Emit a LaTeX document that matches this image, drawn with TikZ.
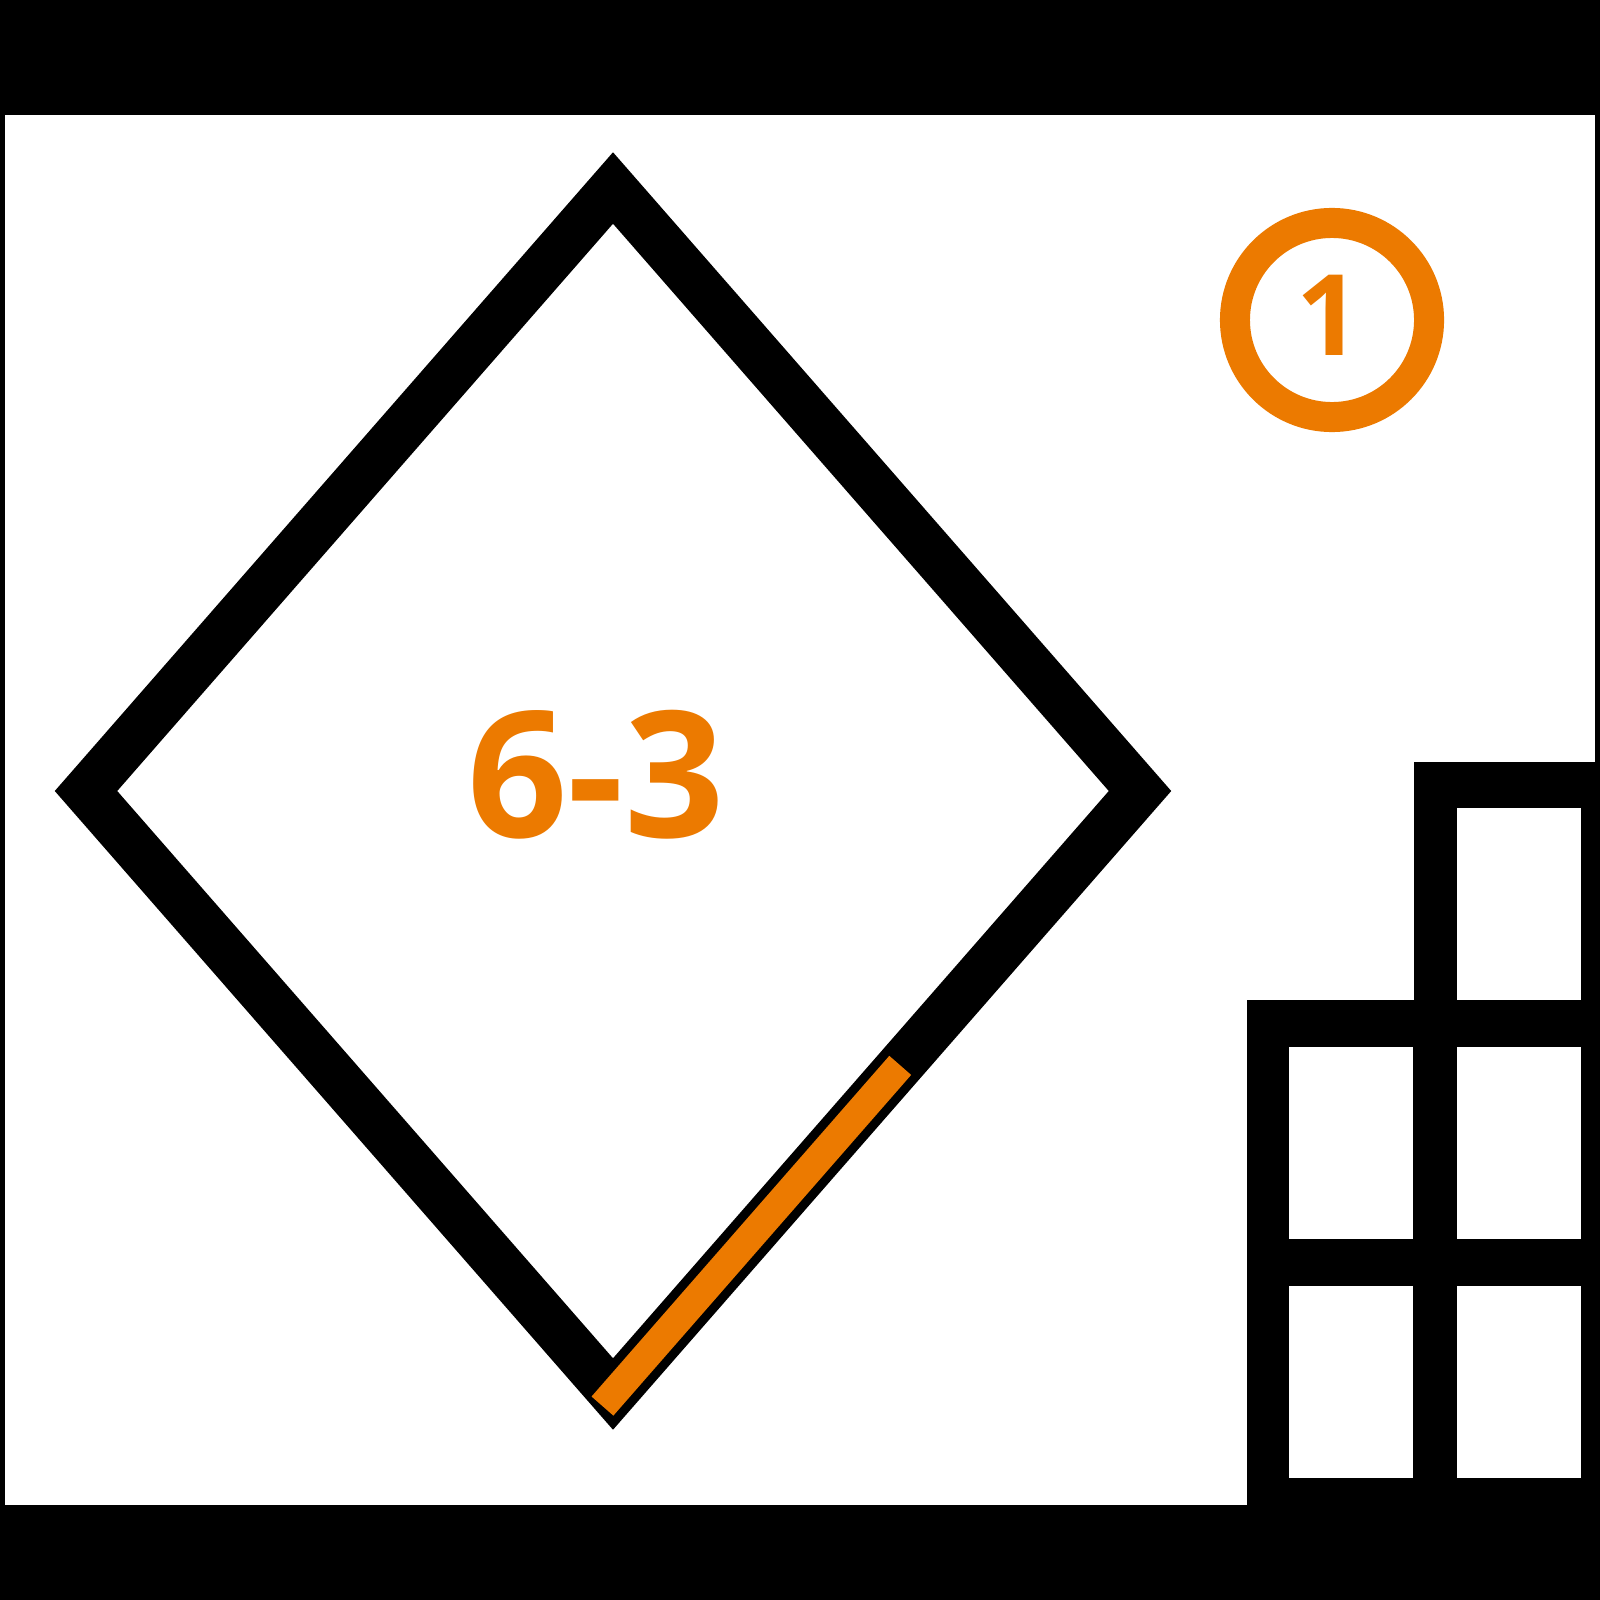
\documentclass[tikz,border=0pt]{standalone}
\usepackage{fontspec}
\setmainfont{Open Sans}
\usetikzlibrary{positioning,calc}
\definecolor{signorange}{RGB}{236,122,0}

\begin{document}
\begin{tikzpicture}[x=0.01cm,y=-0.01cm,node distance=2.39cm and 1.68cm,on grid,
  pane/.style={fill=white,minimum width=1.24cm,minimum height=1.92cm,inner sep=0pt},
  sign/.style={draw=black,line width=0.47cm,line join=miter},
  mark63/.style={draw=signorange,line width=0.29cm,line cap=butt}]
	\useasboundingbox (0,0) rectangle (1600,1600);
	% frame
	\fill[black] (0,0) rectangle (1600,1600);
	\fill[white] (5,115) rectangle (1595,1505);
	% building
	\fill[black] (1247,1510) -- (1247,1000) -- (1414,1000) -- (1414,762)
		-- (1600,762) -- (1600,1510) -- cycle;
	\node[pane] (w_1) at (1519,904) {};
	\node[pane] (w_2) [below=of w_1] {};
	\node[pane] (w_3) [below=of w_2] {};
	\node[pane] (w_4) [left=of w_2] {};
	\node[pane] (w_5) [left=of w_3] {};
	% sign
	\coordinate (top) at (613,188);
	\coordinate (left) at (86,791);
	\coordinate (right) at (1140,791);
	\coordinate (bot) at (613,1394);
	\draw[sign] (top) -- (right) -- (bot) -- (left) -- cycle;
	\draw[mark63] ($(bot)!-0.02!(right)$) -- ($(bot)!0.545!(right)$);
	\node[text=signorange,inner sep=0pt] (lbl) at (596,775)
		{\fontsize{50}{50}\selectfont\bfseries 6-3};
	% badge
	\node[circle,draw=signorange,line width=0.30cm,minimum size=1.94cm,inner sep=0pt] (badge) at (1332,320) {};
	\node[text=signorange,inner sep=0pt] (num) at (1329,315)
		{\fontsize{32}{32}\selectfont\bfseries 1};
\end{tikzpicture}
\end{document}
